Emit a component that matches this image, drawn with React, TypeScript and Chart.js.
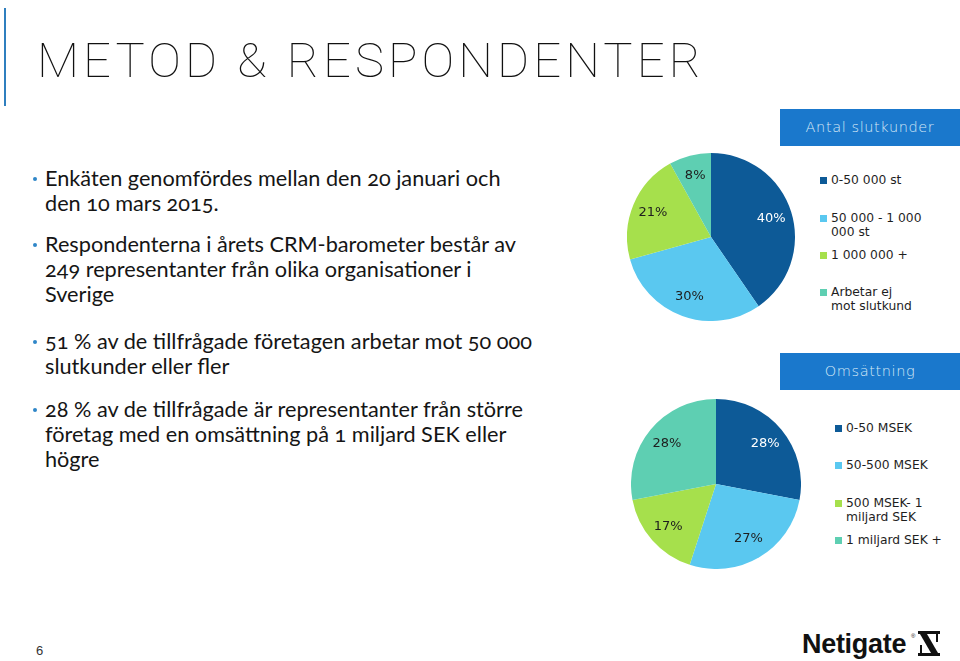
import React, { useEffect, useRef } from "react";
import { Chart, registerables } from "chart.js";

Chart.register(...registerables);

// ---- Data ----
const pie1Title = "Antal slutkunder";
const pie1Labels: string[][] = [["0-50 000 st"], ["50 000 - 1 000", "000 st"], ["1 000 000 +"], ["Arbetar ej", "mot slutkund"]];
const pie1Values = [40, 30, 21, 8];

const pie2Title = "Omsättning";
const pie2Labels: string[][] = [["0-50 MSEK"], ["50-500 MSEK"], ["500 MSEK- 1", "miljard SEK"], ["1 miljard SEK +"]];
const pie2Values = [28, 27, 17, 28];

const sliceColors = ["#0d5a97", "#5ac8f0", "#a6e04c", "#5ecfb2"];
const labelColors = ["#ffffff", "#1e1e1e", "#1e1e1e", "#1e1e1e"];

const titleText = "METOD & RESPONDENTER";
const bullets: string[][] = [
  ["Enkäten genomfördes mellan den 20 januari och", "den 10 mars 2015."],
  ["Respondenterna i årets CRM-barometer består av", "249 representanter från olika organisationer i", "Sverige"],
  ["51 % av de tillfrågade företagen arbetar mot 50 000", "slutkunder eller fler"],
  ["28 % av de tillfrågade är representanter från större", "företag med en omsättning på 1 miljard SEK eller", "högre"],
];
const pageNumber = "6";

// ---- layout (positions only) ----
const bulletTops = [166, 232, 329, 397];
const legend1Tops = [173, 211, 248, 285];
const legend2Tops = [421, 458, 496, 533];

const pctFont = "'DejaVu Sans', sans-serif";

const pctLabelPlugin = {
  id: "pctLabels",
  afterDatasetsDraw(chart: any) {
    const ctx = chart.ctx;
    const meta = chart.getDatasetMeta(0);
    const data = chart.data.datasets[0].data as number[];
    ctx.save();
    ctx.font = `13px ${pctFont}`;
    ctx.textAlign = "center";
    ctx.textBaseline = "middle";
    meta.data.forEach((arc: any, i: number) => {
      const p = arc.getProps(["x", "y", "startAngle", "endAngle", "outerRadius"], true);
      const mid = (p.startAngle + p.endAngle) / 2;
      const r = p.outerRadius * 0.75;
      ctx.fillStyle = labelColors[i];
      ctx.fillText(`${data[i]}%`, p.x + Math.cos(mid) * r, p.y + Math.sin(mid) * r);
    });
    ctx.restore();
  },
};

function Pie({ values, labels, left, top, size }: { values: number[]; labels: string[][]; left: number; top: number; size: number }) {
  const ref = useRef<HTMLCanvasElement>(null);
  useEffect(() => {
    if (!ref.current) return;
    const chart = new Chart(ref.current, {
      type: "pie",
      data: {
        labels: labels.map((l) => l.join(" ")),
        datasets: [{ data: values, backgroundColor: sliceColors, borderWidth: 0 }],
      },
      options: {
        responsive: false,
        animation: false,
        maintainAspectRatio: false,
        layout: { padding: 0 },
        plugins: { legend: { display: false }, tooltip: { enabled: false } },
      },
      plugins: [pctLabelPlugin],
    });
    return () => chart.destroy();
  }, []);
  return <canvas ref={ref} width={size} height={size} style={{ position: "absolute", left, top, width: size, height: size }} />;
}

function Legend({ labels, tops, left }: { labels: string[][]; tops: number[]; left: number }) {
  return (
    <>
      {labels.map((lines, i) => (
        <div key={i} style={{ position: "absolute", left, top: tops[i], fontFamily: pctFont, fontSize: 12.3, lineHeight: "14px", color: "#1e1e1e", whiteSpace: "nowrap" }}>
          <span style={{ position: "absolute", left: 0, top: 4, width: 7, height: 7, background: sliceColors[i] }} />
          <div style={{ marginLeft: 11 }}>
            {lines.map((ln, j) => (
              <div key={j}>{ln}</div>
            ))}
          </div>
        </div>
      ))}
    </>
  );
}

function HeadBox({ text, top }: { text: string; top: number }) {
  return (
    <div style={{ position: "absolute", left: 780, top, width: 180, height: 37, background: "#1a78cc", color: "#d6e8f6", fontFamily: pctFont, fontSize: 14.5, lineHeight: "37px", textAlign: "center", letterSpacing: 0.6, fontWeight: 200 }}>
      {text}
    </div>
  );
}

export default function App() {
  useEffect(() => {
    document.body.style.margin = "0";
  }, []);
  return (
    <div style={{ position: "relative", width: 960, height: 661, background: "#ffffff", overflow: "hidden" }}>
      <div style={{ position: "absolute", left: 4, top: 8, width: 2, height: 98, background: "#2f7fbf" }} />
      <div style={{ position: "absolute", left: 37, top: 31, fontFamily: "Roboto, sans-serif", fontWeight: 100, fontSize: 49, letterSpacing: 4.1, color: "#111", whiteSpace: "nowrap", lineHeight: "60px" }}>
        {titleText}
      </div>

      {bullets.map((lines, i) => (
        <div key={i} style={{ position: "absolute", left: 45, top: bulletTops[i], fontFamily: "Lato, sans-serif", fontSize: 21.7, lineHeight: "25px", color: "#151515", whiteSpace: "nowrap", fontVariantNumeric: "oldstyle-nums" }}>
          <span style={{ position: "absolute", left: -12, top: 11, width: 4, height: 4, borderRadius: 2, background: "#2f86c8" }} />
          {lines.map((ln, j) => (
            <div key={j}>{ln}</div>
          ))}
        </div>
      ))}

      <HeadBox text={pie1Title} top={109} />
      <HeadBox text={pie2Title} top={353} />

      <Pie values={pie1Values} labels={pie1Labels} left={627} top={153} size={168} />
      <Pie values={pie2Values} labels={pie2Labels} left={631} top={399} size={170} />

      <Legend labels={pie1Labels} tops={legend1Tops} left={820} />
      <Legend labels={pie2Labels} tops={legend2Tops} left={835} />

      <div style={{ position: "absolute", left: 36, top: 643, fontFamily: "'Liberation Sans', sans-serif", fontSize: 13, color: "#333" }}>{pageNumber}</div>

      <div style={{ position: "absolute", left: 802, top: 628, fontFamily: "'Liberation Sans', Arial, sans-serif", fontWeight: 700, fontSize: 27, color: "#111", letterSpacing: -0.3, lineHeight: "32px" }}>
        Netigate
      </div>
      <div style={{ position: "absolute", left: 911, top: 633, fontFamily: "'Liberation Sans', sans-serif", fontSize: 6, color: "#111" }}>®</div>
      <svg style={{ position: "absolute", left: 918, top: 631 }} width={22} height={25} viewBox="0 0 22 25">
        <polygon points="0,0 22,0 22,3 0,3" fill="#111" />
        <polygon points="0,22 22,22 22,25 0,25" fill="#111" />
        <polygon points="2,3 9,3 20,22 13,22" fill="#111" />
        <polygon points="18,3 20,3 20,11 18,11" fill="#111" />
        <polygon points="2,14 4,14 4,22 2,22" fill="#111" />
      </svg>
    </div>
  );
}
